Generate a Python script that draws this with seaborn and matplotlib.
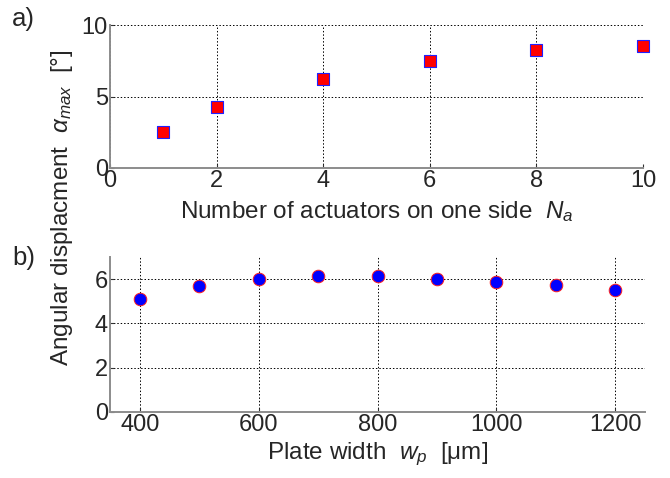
import matplotlib
matplotlib.use("Agg")
import matplotlib.pyplot as plt
import seaborn as sns
import pandas as pd

# Data
n_actuators = [1, 2, 4, 6, 8, 10]
alpha_a = [2.5, 4.3, 6.2, 7.5, 8.25, 8.55]
plate_width = [400, 500, 600, 700, 800, 900, 1000, 1100, 1200]
alpha_b = [5.1, 5.68, 6.02, 6.12, 6.12, 6.02, 5.88, 5.72, 5.53]

xticks_a = [0, 2, 4, 6, 8, 10]
yticks_a = [0, 5, 10]
xticks_b = [400, 600, 800, 1000, 1200]
yticks_b = [0, 2, 4, 6]

sns.set_theme(style="white")
plt.rcParams['font.family'] = ['Liberation Sans', 'DejaVu Sans']
plt.rcParams['mathtext.fontset'] = 'custom'
plt.rcParams['mathtext.rm'] = 'Liberation Sans'
plt.rcParams['mathtext.it'] = 'Liberation Sans:italic'
plt.rcParams['mathtext.bf'] = 'Liberation Sans:bold'

W, H = 670, 478
fig = plt.figure(figsize=(W / 100, H / 100), dpi=100)
ax1 = fig.add_axes([110 / W, 1 - 168 / H, 533 / W, 143 / H])
ax2 = fig.add_axes([110 / W, 1 - 412 / H, 535 / W, 155 / H])

df_a = pd.DataFrame({"N": n_actuators, "alpha": alpha_a})
df_b = pd.DataFrame({"w": plate_width, "alpha": alpha_b})

sns.scatterplot(data=df_a, x="N", y="alpha", ax=ax1, marker="s", s=66,
                color="#ff0000", edgecolor="#2020ff", linewidth=0.8, zorder=5, clip_on=False)
sns.scatterplot(data=df_b, x="w", y="alpha", ax=ax2, marker="o", s=82,
                color="#0000ff", edgecolor="#ff2020", linewidth=0.7, zorder=5, clip_on=False)

fs_tick = 17
fs_lab = 17.5
for ax, xt, yt, xl, yl in [(ax1, xticks_a, yticks_a, (0, 10), (0, 10)),
                           (ax2, xticks_b, yticks_b, (350, 1250), (0, 7))]:
    ax.set_xlim(*xl)
    ax.set_ylim(*yl)
    ax.set_xticks(xt)
    ax.set_yticks(yt)
    ax.grid(True, color="black", linestyle=(0, (1.5, 2.0)), linewidth=0.7)
    ax.set_axisbelow(True)
    for s in ["top", "right"]:
        ax.spines[s].set_visible(False)
    for s in ["left", "bottom"]:
        ax.spines[s].set_color("#8c8c8c")
        ax.spines[s].set_linewidth(1.4)
    ax.tick_params(axis="both", direction="in", length=3, width=0.8, color="#333333",
                   labelsize=fs_tick, pad=1.5, bottom=True, left=True)
    ax.set_ylabel("")

ax1.set_xlabel(r"Number of actuators on one side  $N_a$", fontsize=fs_lab, labelpad=5)
ax2.set_xlabel(r"Plate width  $w_p$  [$\mathrm{\mu}$m]", fontsize=fs_lab, labelpad=3)

fig.text(62 / W, 1 - 208 / H, r"Angular displacment  $\alpha_{max}$  [°]",
         rotation=90, ha="center", va="center", fontsize=fs_lab)
fig.text(23 / W, 1 - 19 / H, "a)", ha="center", va="center", fontsize=18.5)
fig.text(24 / W, 1 - 258 / H, "b)", ha="center", va="center", fontsize=18.5)

fig.savefig("out.png", dpi=100)
